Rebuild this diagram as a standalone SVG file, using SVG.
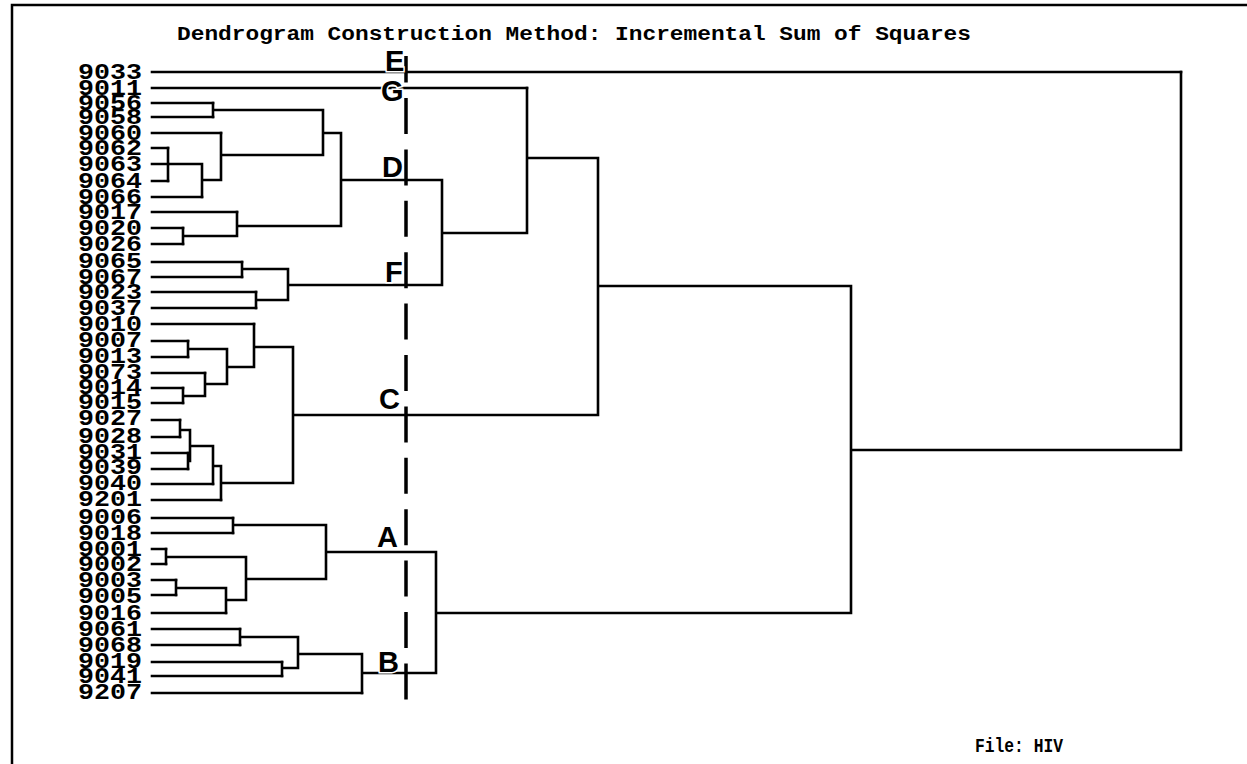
<svg xmlns="http://www.w3.org/2000/svg" width="1247" height="764" viewBox="0 0 1247 764">
<style>
.leaf{font-family:"Liberation Mono","DejaVu Sans Mono",monospace;font-weight:bold;font-size:22px;fill:#000}
.title{font-family:"Liberation Mono","DejaVu Sans Mono",monospace;font-weight:bold;font-size:20px;fill:#000}
.cl{font-family:"Liberation Sans",Arial,sans-serif;font-weight:bold;font-size:29px;fill:#000;stroke:#fff;stroke-width:3px;paint-order:stroke}
.ln{stroke:#000;stroke-width:2.6;fill:none;stroke-linecap:square}
.cut{stroke:#000;stroke-width:3.5;fill:none;stroke-dasharray:36 15.4;stroke-dashoffset:9.4}
</style>
<rect width="1247" height="764" fill="#fff"/>
<path d="M12 764V5H1247" stroke="#000" stroke-width="2.5" fill="none"/>
<text class="title" x="177" y="40" textLength="794" lengthAdjust="spacingAndGlyphs">Dendrogram Construction Method: Incremental Sum of Squares</text>
<g id="connectors" class="ln">
<path d="M152 72H1181M152 88H527M152 103H213M152 117H213M152 133H221M152 148H168M152 164H168M152 181H168M152 197H202M152 212H237M152 228H183M152 244H183M152 262H242M152 277H242M152 292H256M152 308H256M152 324H254M152 341H188M152 357H188M152 373H205M152 388H183M152 403H183M152 420H180M152 437H180M152 453H188M152 469H188M152 484H213M152 500H221M152 518H233M152 533H233M152 549H166M152 564H166M152 580H176M152 595H176M152 613H226M152 629H240M152 645H240M152 662H282M152 676H282M152 693H362"/>
<path d="M213 103V117M213 110H323
M168 148V181M168 164H202
M202 164V197M202 180H221
M221 133V180M221 155H323
M323 110V155M323 133H341
M183 228V244M183 236H237
M237 212V236M237 226H341
M341 133V226M341 180H442
M242 262V277M242 269H288
M256 292V308M256 300H288
M288 269V300M288 285H442
M442 180V285M442 233H527
M527 88V233M527 158H598
M188 341V357M188 349H227
M183 388V403M183 396H205
M205 373V396M205 384H227
M227 349V384M227 367H254
M254 324V367M254 347H293
M180 420V437M180 430H190
M188 453V469M188 461H190
M190 430V461M190 446H213
M213 446V484M213 466H221
M221 466V500M221 483H293
M293 347V483M293 415H598
M598 158V415M598 286H851
M233 518V533M233 525H326
M166 549V564M166 557H246
M176 580V595M176 588H226
M226 588V613M226 600H246
M246 557V600M246 579H326
M326 525V579M326 552H436
M240 629V645M240 637H298
M282 662V676M282 668H298
M298 637V668M298 654H362
M362 654V693M362 673H436
M436 552V673M436 613H851
M851 286V613M851 450H1181
M1181 72V450"/>
</g>
<line class="cut" x1="406" y1="56" x2="406" y2="700"/>
<g id="leaf-9033"><text class="leaf" x="78" y="79" textLength="64" lengthAdjust="spacingAndGlyphs">9033</text></g>
<g id="leaf-9011"><text class="leaf" x="78" y="95" textLength="64" lengthAdjust="spacingAndGlyphs">9011</text></g>
<g id="leaf-9056"><text class="leaf" x="78" y="110" textLength="64" lengthAdjust="spacingAndGlyphs">9056</text></g>
<g id="leaf-9058"><text class="leaf" x="78" y="124" textLength="64" lengthAdjust="spacingAndGlyphs">9058</text></g>
<g id="leaf-9060"><text class="leaf" x="78" y="140" textLength="64" lengthAdjust="spacingAndGlyphs">9060</text></g>
<g id="leaf-9062"><text class="leaf" x="78" y="155" textLength="64" lengthAdjust="spacingAndGlyphs">9062</text></g>
<g id="leaf-9063"><text class="leaf" x="78" y="171" textLength="64" lengthAdjust="spacingAndGlyphs">9063</text></g>
<g id="leaf-9064"><text class="leaf" x="78" y="188" textLength="64" lengthAdjust="spacingAndGlyphs">9064</text></g>
<g id="leaf-9066"><text class="leaf" x="78" y="204" textLength="64" lengthAdjust="spacingAndGlyphs">9066</text></g>
<g id="leaf-9017"><text class="leaf" x="78" y="219" textLength="64" lengthAdjust="spacingAndGlyphs">9017</text></g>
<g id="leaf-9020"><text class="leaf" x="78" y="235" textLength="64" lengthAdjust="spacingAndGlyphs">9020</text></g>
<g id="leaf-9026"><text class="leaf" x="78" y="251" textLength="64" lengthAdjust="spacingAndGlyphs">9026</text></g>
<g id="leaf-9065"><text class="leaf" x="78" y="268" textLength="64" lengthAdjust="spacingAndGlyphs">9065</text></g>
<g id="leaf-9067"><text class="leaf" x="78" y="284" textLength="64" lengthAdjust="spacingAndGlyphs">9067</text></g>
<g id="leaf-9023"><text class="leaf" x="78" y="299" textLength="64" lengthAdjust="spacingAndGlyphs">9023</text></g>
<g id="leaf-9037"><text class="leaf" x="78" y="315" textLength="64" lengthAdjust="spacingAndGlyphs">9037</text></g>
<g id="leaf-9010"><text class="leaf" x="78" y="331" textLength="64" lengthAdjust="spacingAndGlyphs">9010</text></g>
<g id="leaf-9007"><text class="leaf" x="78" y="347" textLength="64" lengthAdjust="spacingAndGlyphs">9007</text></g>
<g id="leaf-9013"><text class="leaf" x="78" y="363" textLength="64" lengthAdjust="spacingAndGlyphs">9013</text></g>
<g id="leaf-9073"><text class="leaf" x="78" y="379" textLength="64" lengthAdjust="spacingAndGlyphs">9073</text></g>
<g id="leaf-9014"><text class="leaf" x="78" y="394" textLength="64" lengthAdjust="spacingAndGlyphs">9014</text></g>
<g id="leaf-9015"><text class="leaf" x="78" y="409" textLength="64" lengthAdjust="spacingAndGlyphs">9015</text></g>
<g id="leaf-9027"><text class="leaf" x="78" y="425" textLength="64" lengthAdjust="spacingAndGlyphs">9027</text></g>
<g id="leaf-9028"><text class="leaf" x="78" y="443" textLength="64" lengthAdjust="spacingAndGlyphs">9028</text></g>
<g id="leaf-9031"><text class="leaf" x="78" y="459" textLength="64" lengthAdjust="spacingAndGlyphs">9031</text></g>
<g id="leaf-9039"><text class="leaf" x="78" y="474" textLength="64" lengthAdjust="spacingAndGlyphs">9039</text></g>
<g id="leaf-9040"><text class="leaf" x="78" y="490" textLength="64" lengthAdjust="spacingAndGlyphs">9040</text></g>
<g id="leaf-9201"><text class="leaf" x="78" y="506" textLength="64" lengthAdjust="spacingAndGlyphs">9201</text></g>
<g id="leaf-9006"><text class="leaf" x="78" y="524" textLength="64" lengthAdjust="spacingAndGlyphs">9006</text></g>
<g id="leaf-9018"><text class="leaf" x="78" y="540" textLength="64" lengthAdjust="spacingAndGlyphs">9018</text></g>
<g id="leaf-9001"><text class="leaf" x="78" y="556" textLength="64" lengthAdjust="spacingAndGlyphs">9001</text></g>
<g id="leaf-9002"><text class="leaf" x="78" y="571" textLength="64" lengthAdjust="spacingAndGlyphs">9002</text></g>
<g id="leaf-9003"><text class="leaf" x="78" y="587" textLength="64" lengthAdjust="spacingAndGlyphs">9003</text></g>
<g id="leaf-9005"><text class="leaf" x="78" y="603" textLength="64" lengthAdjust="spacingAndGlyphs">9005</text></g>
<g id="leaf-9016"><text class="leaf" x="78" y="620" textLength="64" lengthAdjust="spacingAndGlyphs">9016</text></g>
<g id="leaf-9061"><text class="leaf" x="78" y="636" textLength="64" lengthAdjust="spacingAndGlyphs">9061</text></g>
<g id="leaf-9068"><text class="leaf" x="78" y="652" textLength="64" lengthAdjust="spacingAndGlyphs">9068</text></g>
<g id="leaf-9019"><text class="leaf" x="78" y="668" textLength="64" lengthAdjust="spacingAndGlyphs">9019</text></g>
<g id="leaf-9041"><text class="leaf" x="78" y="683" textLength="64" lengthAdjust="spacingAndGlyphs">9041</text></g>
<g id="leaf-9207"><text class="leaf" x="78" y="699" textLength="64" lengthAdjust="spacingAndGlyphs">9207</text></g>
<g id="cluster-E"><text class="cl" x="385" y="71">E</text></g>
<g id="cluster-G"><text class="cl" x="381" y="101">G</text></g>
<g id="cluster-D"><text class="cl" x="382" y="177">D</text></g>
<g id="cluster-F"><text class="cl" x="385" y="282">F</text></g>
<g id="cluster-C"><text class="cl" x="379" y="409">C</text></g>
<g id="cluster-A"><text class="cl" x="377" y="547">A</text></g>
<g id="cluster-B"><text class="cl" x="378" y="672">B</text></g>
<text class="title" x="975" y="752" textLength="88" lengthAdjust="spacingAndGlyphs">File: HIV</text>
</svg>
